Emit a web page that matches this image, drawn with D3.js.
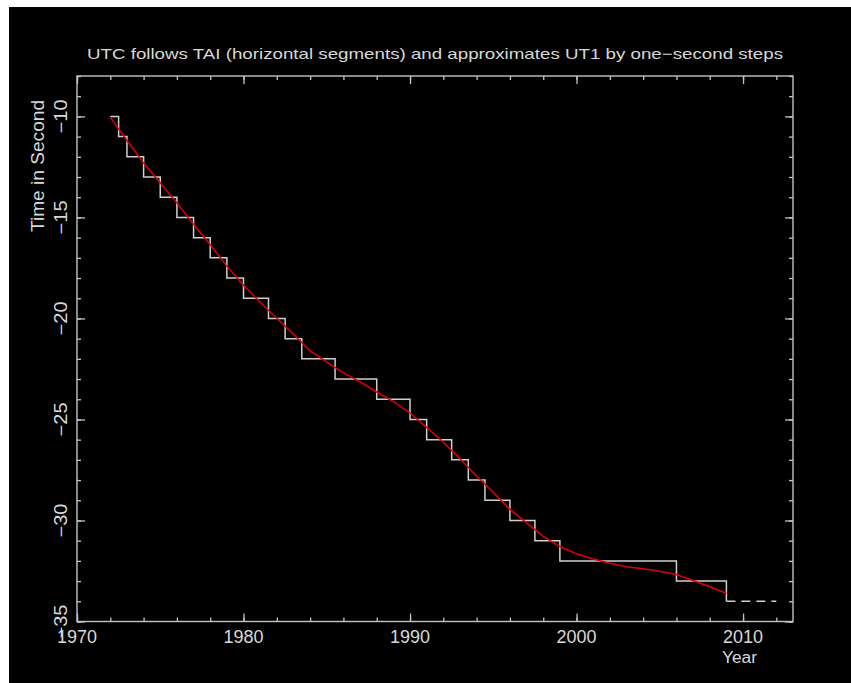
<!DOCTYPE html>
<html><head><meta charset="utf-8">
<script src="https://cdn.jsdelivr.net/npm/d3@7"></script>
<style>
html,body{margin:0;padding:0;background:#fff;}
svg{display:block;}
</style></head>
<body>
<svg id="chart" width="851" height="683"></svg>
<script>
// Leap-second steps: UTC - TAI (seconds), value holds from year until next entry
const stepYears  = [1972.0,1972.5,1973.0,1974.0,1975.0,1976.0,1977.0,1978.0,1979.0,1980.0,1981.5,1982.5,1983.5,1985.5,1988.0,1990.0,1991.0,1992.5,1993.5,1994.5,1996.0,1997.5,1999.0,2006.0,2009.0];
const stepValues = [-10,-11,-12,-13,-14,-15,-16,-17,-18,-19,-20,-21,-22,-23,-24,-25,-26,-27,-28,-29,-30,-31,-32,-33,-34];
const stepEnd = 2009.0;          // solid steps end here
const dashedEnd = 2012.0;        // dashed extension of last value
// UT1 - TAI (seconds)
const ut1Years  = [1972,1973,1974,1975,1976,1977,1978,1979,1980,1981,1982,1983,1984,1985,1986,1987,1988,1989,1990,1991,1992,1993,1994,1995,1996,1997,1998,1999,2000,2001,2002,2003,2004,2005,2006,2007,2008,2009];
const ut1Values = [-10.05,-11.19,-12.31,-13.30,-14.28,-15.34,-16.35,-17.41,-18.36,-19.20,-19.99,-20.78,-21.61,-22.16,-22.69,-23.14,-23.64,-24.12,-24.68,-25.39,-26.13,-26.94,-27.80,-28.60,-29.45,-30.12,-30.79,-31.29,-31.65,-31.91,-32.12,-32.29,-32.39,-32.51,-32.67,-32.97,-33.28,-33.60];
const xMajorTicks = [1970,1980,1990,2000,2010];
const yMajorTicks = [-10,-15,-20,-25,-30,-35];
const titleText = "UTC follows TAI (horizontal segments) and approximates UT1 by one\u2212second steps";
const xLabel = "Year";
const yLabel = "Time in Second";

const svg = d3.select("#chart");
svg.append("rect").attr("x",9).attr("y",7).attr("width",842).attr("height",676).attr("fill","#000");

const L=77, R=793, T=76, B=621.5;
const x = d3.scaleLinear().domain([1970,2013]).range([L,R]);
const y = d3.scaleLinear().domain([-35,-8]).range([B,T]);

const axCol="#c4c4c4", txtCol="#d8d8d8";
const font="'Liberation Sans', Arial, sans-serif";

const xMinor = d3.range(1970,2013.01,2);
const yMinor = d3.range(-35,-7.99,1);

function styleAxis(g){
  g.selectAll("path.domain").remove();
  g.selectAll("line").attr("stroke",axCol).attr("stroke-width",1.3);
  g.selectAll("text").remove();
}
// bottom/top ticks (inward)
svg.append("g").attr("transform",`translate(0,${B})`).call(d3.axisBottom(x).tickValues(xMinor).tickSize(-4)).call(styleAxis);
svg.append("g").attr("transform",`translate(0,${B})`).call(d3.axisBottom(x).tickValues(xMajorTicks).tickSize(-8)).call(styleAxis);
svg.append("g").attr("transform",`translate(0,${T})`).call(d3.axisTop(x).tickValues(xMinor).tickSize(-4)).call(styleAxis);
svg.append("g").attr("transform",`translate(0,${T})`).call(d3.axisTop(x).tickValues(xMajorTicks).tickSize(-8)).call(styleAxis);
// left/right ticks
svg.append("g").attr("transform",`translate(${L},0)`).call(d3.axisLeft(y).tickValues(yMinor).tickSize(-4)).call(styleAxis);
svg.append("g").attr("transform",`translate(${L},0)`).call(d3.axisLeft(y).tickValues(yMajorTicks).tickSize(-8)).call(styleAxis);
svg.append("g").attr("transform",`translate(${R},0)`).call(d3.axisRight(y).tickValues(yMinor).tickSize(-4)).call(styleAxis);
svg.append("g").attr("transform",`translate(${R},0)`).call(d3.axisRight(y).tickValues(yMajorTicks).tickSize(-8)).call(styleAxis);

// frame
svg.append("rect").attr("x",L).attr("y",T).attr("width",R-L).attr("height",B-T)
  .attr("fill","none").attr("stroke",axCol).attr("stroke-width",1.4);

// x labels
svg.append("g").selectAll("text").data(xMajorTicks).join("text")
  .attr("x",d=>x(d)).attr("y",643).attr("text-anchor","middle")
  .attr("fill",txtCol).attr("font-family",font).attr("font-size",17.5)
  .attr("textLength",40).attr("lengthAdjust","spacingAndGlyphs").text(d=>d);
// y labels (rotated)
svg.append("g").selectAll("text").data(yMajorTicks).join("text")
  .attr("transform",d=>`translate(66.5,${y(d)}) rotate(-90)`).attr("text-anchor","middle")
  .attr("fill",txtCol).attr("font-family",font).attr("font-size",17.5)
  .attr("textLength",34).attr("lengthAdjust","spacingAndGlyphs").text(d=>"\u2212"+Math.abs(d));

// titles
svg.append("text").attr("x",(L+R)/2).attr("y",59).attr("text-anchor","middle")
  .attr("fill",txtCol).attr("font-family",font).attr("font-size",15)
  .attr("textLength",696).attr("lengthAdjust","spacingAndGlyphs").text(titleText);
svg.append("text").attr("x",722).attr("y",663).attr("fill",txtCol)
  .attr("font-family",font).attr("font-size",16)
  .attr("textLength",35).attr("lengthAdjust","spacingAndGlyphs").text(xLabel);
svg.append("text").attr("transform","translate(43.5,166) rotate(-90)").attr("text-anchor","middle")
  .attr("fill",txtCol).attr("font-family",font).attr("font-size",17.5)
  .attr("textLength",132).attr("lengthAdjust","spacingAndGlyphs").text(yLabel);

// step line
const stepData = stepYears.slice(0,-1).map((d,i)=>[d,stepValues[i]]);
stepData.push([stepEnd, stepValues[stepValues.length-2]]);
stepData.push([stepEnd, stepValues[stepValues.length-1]]);
const stepLine = d3.line().x(d=>x(d[0])).y(d=>y(d[1])).curve(d3.curveStepAfter);
svg.append("path").datum(stepData).attr("d",stepLine)
  .attr("fill","none").attr("stroke","#cfcfcf").attr("stroke-width",1.5);
// dashed extension
svg.append("path").datum([[stepEnd,stepValues[stepValues.length-1]],[dashedEnd,stepValues[stepValues.length-1]]])
  .attr("d",d3.line().x(d=>x(d[0])).y(d=>y(d[1])))
  .attr("fill","none").attr("stroke","#cfcfcf").attr("stroke-width",1.5).attr("stroke-dasharray","9,6");

// UT1 curve
svg.append("path").datum(ut1Years.map((d,i)=>[d,ut1Values[i]]))
  .attr("d",d3.line().x(d=>x(d[0])).y(d=>y(d[1])))
  .attr("fill","none").attr("stroke","#e00000").attr("stroke-width",1.5);
</script>
</body></html>
